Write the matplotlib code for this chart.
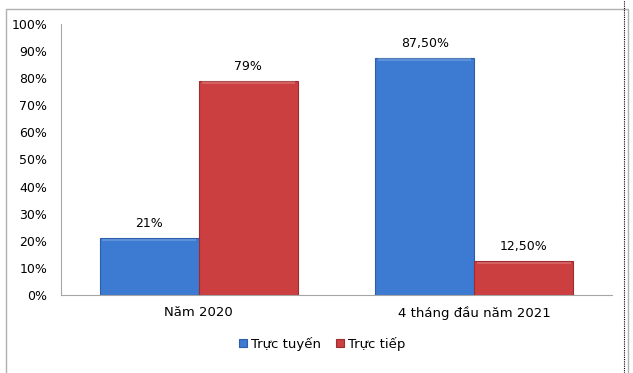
import numpy as np
import matplotlib
matplotlib.use("Agg")
import matplotlib.pyplot as plt
from matplotlib.patches import Rectangle
from matplotlib.lines import Line2D

categories = ["Năm 2020", "4 tháng đầu năm 2021"]
online = [21, 87.5]
offline = [79, 12.5]
online_labels = ["21%", "87,50%"]
offline_labels = ["79%", "12,50%"]
series_names = ["Trực tuyến", "Trực tiếp"]

BLUE = "#3d7ad2"; BLUE_EDGE = "#2d5fa8"
RED = "#cc3f41"; RED_EDGE = "#9c2c2e"
W, H = 633, 373

plt.rcParams.update({"font.family": "DejaVu Sans", "font.size": 9})
fig = plt.figure(figsize=(W / 100, H / 100), dpi=100)
ax = fig.add_axes([61 / W, 1 - 295 / H, (612 - 61) / W, (295 - 24) / H])

x = np.arange(len(categories))
bw = 0.36
b1 = ax.bar(x - bw / 2, online, bw, color=BLUE, edgecolor=BLUE_EDGE, linewidth=0.8, label=series_names[0])
b2 = ax.bar(x + bw / 2, offline, bw, color=RED, edgecolor=RED_EDGE, linewidth=0.8, label=series_names[1])

# light bevel highlight on top of each bar
for bars in (b1, b2):
    for r in bars:
        ax.add_patch(Rectangle((r.get_x() + 0.01, r.get_height() - 1.2), r.get_width() - 0.02, 1.0,
                               color="white", alpha=0.18, lw=0, zorder=3))

for xi, v, t in zip(x - bw / 2, online, online_labels):
    ax.text(xi, v + 3, t, ha="center", va="bottom", fontsize=9)
for xi, v, t in zip(x + bw / 2, offline, offline_labels):
    ax.text(xi, v + 3, t, ha="center", va="bottom", fontsize=9)

ax.set_xlim(-0.5, 1.5)
ax.set_ylim(0, 100)
ax.set_yticks(range(0, 101, 10))
ax.set_yticklabels([f"{v}%" for v in range(0, 101, 10)])
ax.set_xticks(x)
ax.set_xticklabels(categories, fontsize=9.5)
ax.tick_params(axis="both", length=0, pad=8)
ax.tick_params(axis="y", pad=10)
for s in ("top", "right"):
    ax.spines[s].set_visible(False)
ax.spines["left"].set_color("#a6a6a6")
ax.spines["bottom"].set_color("#a6a6a6")

ax.legend(loc="upper center", bbox_to_anchor=(0.474, -0.11), ncol=2, frameon=False,
          handlelength=0.6, handleheight=0.6, handletextpad=0.3, columnspacing=1.2, fontsize=9.5)

# chart frame and dotted edge
fig.patches.append(Rectangle((6 / W, -0.05), (628 - 6) / W, 1 - 9 / H + 0.05,
                             transform=fig.transFigure, fill=False, ec="#b0b0b0", lw=1))
fig.lines.append(Line2D([624 / W, 624 / W], [0, 1], transform=fig.transFigure,
                        color="black", lw=0.8, ls=(0, (1, 1))))

fig.savefig("out.png", dpi=100)
